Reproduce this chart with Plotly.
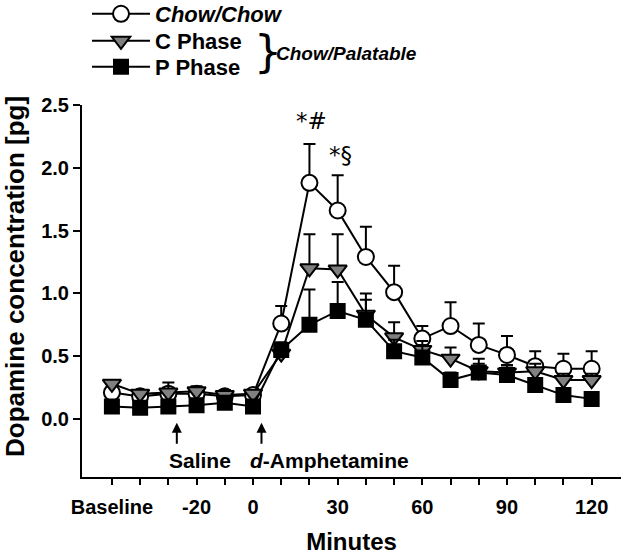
import plotly.graph_objects as go

minutes = [-50, -40, -30, -20, -10, 0, 10, 20, 30, 40, 50, 60, 70, 80, 90, 100, 110, 120]
chow_chow = [0.21, 0.18, 0.20, 0.20, 0.18, 0.19, 0.76, 1.88, 1.66, 1.29, 1.01, 0.64, 0.74, 0.59, 0.51, 0.42, 0.40, 0.40]
chow_chow_err = [0.05, 0.04, 0.05, 0.04, 0.03, 0.04, 0.14, 0.31, 0.28, 0.24, 0.21, 0.10, 0.19, 0.17, 0.15, 0.12, 0.12, 0.14]
c_phase = [0.28, 0.20, 0.21, 0.22, 0.19, 0.20, 0.52, 1.20, 1.19, 0.83, 0.65, 0.55, 0.48, 0.38, 0.37, 0.38, 0.31, 0.31]
c_phase_err = [0.03, 0.03, 0.08, 0.04, 0.04, 0.03, 0.06, 0.27, 0.28, 0.17, 0.12, 0.07, 0.09, 0.06, 0.06, 0.06, 0.05, 0.05]
p_phase = [0.10, 0.09, 0.10, 0.11, 0.13, 0.10, 0.55, 0.75, 0.86, 0.79, 0.54, 0.49, 0.31, 0.37, 0.35, 0.27, 0.19, 0.16]
p_phase_err = [0.04, 0.04, 0.04, 0.04, 0.03, 0.04, 0.06, 0.28, 0.23, 0.16, 0.09, 0.10, 0.06, 0.11, 0.06, 0.05, 0.04, 0.04]

x_tickvals = [-50, -40, -30, -20, -10, 0, 10, 20, 30, 40, 50, 60, 70, 80, 90, 100, 110, 120]
x_ticktext = ["Baseline", "", "", "-20", "", "0", "", "", "30", "", "", "60", "", "", "90", "", "", "120"]
y_tickvals = [0.0, 0.5, 1.0, 1.5, 2.0, 2.5]

FONT = "Liberation Sans, Arial, sans-serif"
W, H = 629, 555
ML, MR, MT, MB = 82, 8, 105, 78
PW, PH = W - ML - MR, H - MT - MB


def px_x(p):
    return (p - ML) / PW


def px_y(p):
    return 1 + (MT - p) / PH


def series(name, y, err, symbol, fill, size, legend):
    return go.Scatter(
        x=minutes, y=y, name=name, mode="lines+markers", legend=legend,
        line=dict(color="black", width=2),
        marker=dict(symbol=symbol, size=size, color=fill, line=dict(color="black", width=2)),
        error_y=dict(type="data", array=err, arrayminus=[0] * len(err), symmetric=False,
                     color="black", thickness=2, width=6),
    )


fig = go.Figure()
fig.add_trace(series("<i>Chow/Chow</i>", chow_chow, chow_chow_err, "circle", "white", 16, "legend"))
fig.add_trace(series("C Phase", c_phase, c_phase_err, "triangle-down", "#808080", 16, "legend2"))
fig.add_trace(series("P Phase", p_phase, p_phase_err, "square", "black", 14, "legend3"))

annotations = [
    dict(x=-27, y=-0.03, ax=-27, ay=-0.21, xref="x", yref="y", axref="x", ayref="y",
         showarrow=True, arrowhead=2, arrowsize=1, arrowwidth=2, arrowcolor="black", text=""),
    dict(x=3, y=-0.03, ax=3, ay=-0.21, xref="x", yref="y", axref="x", ayref="y",
         showarrow=True, arrowhead=2, arrowsize=1, arrowwidth=2, arrowcolor="black", text=""),
    dict(x=-30.5, y=-0.33, xref="x", yref="y", xanchor="left", yanchor="middle", showarrow=False,
         text="Saline", font=dict(family=FONT, size=21, color="black", weight="bold")),
    dict(x=-1.8, y=-0.33, xref="x", yref="y", xanchor="left", yanchor="middle", showarrow=False,
         text="<i>d</i>-Amphetamine", font=dict(family=FONT, size=21, color="black", weight="bold")),
    dict(x=20.6, y=2.37, xref="x", yref="y", showarrow=False, text="*#",
         font=dict(family="DejaVu Sans, sans-serif", size=23, color="black")),
    dict(x=31.1, y=2.10, xref="x", yref="y", showarrow=False, text="*§",
         font=dict(family="DejaVu Sans, sans-serif", size=23, color="black")),
    dict(x=px_x(268), y=px_y(52), xref="paper", yref="paper", showarrow=False, text="}",
         xanchor="center", yanchor="middle",
         font=dict(family="DejaVu Sans, sans-serif", size=44, color="black")),
    dict(x=px_x(274), y=px_y(54), xref="paper", yref="paper", showarrow=False, xanchor="left",
         yanchor="middle", text="<i>Chow/Palatable</i>",
         font=dict(family=FONT, size=19, color="black", weight="bold")),
    dict(x=px_x(15), y=px_y(277), xref="paper", yref="paper", showarrow=False, textangle=-90,
         xanchor="center", yanchor="middle", text="Dopamine concentration [pg]", borderpad=0,
         font=dict(family=FONT, size=26, color="black", weight="bold")),
]


def leg(py):
    return dict(x=px_x(87), y=px_y(py), xanchor="left", yanchor="middle",
                bgcolor="rgba(0,0,0,0)",
                font=dict(family=FONT, size=22, color="black", weight="bold"),
                itemwidth=58, tracegroupgap=0)


fig.update_layout(
    width=W, height=H,
    margin=dict(l=ML, r=MR, t=MT, b=MB, autoexpand=False),
    paper_bgcolor="white", plot_bgcolor="white",
    font=dict(family=FONT, color="black"),
    showlegend=True,
    legend=leg(14), legend2=leg(41), legend3=leg(67),
    annotations=annotations,
    xaxis=dict(range=[-60.6, 130.4], tickvals=x_tickvals, ticktext=x_ticktext, automargin=False,
               showgrid=False, zeroline=False, showline=True, linecolor="black", linewidth=2,
               ticks="outside", ticklen=6, tickwidth=2, tickcolor="black",
               tickfont=dict(family=FONT, size=20, color="black", weight="bold"),
               ticklabelstandoff=5,
               title=dict(text="Minutes", font=dict(family=FONT, size=24, color="black", weight="bold"),
                          standoff=16)),
    yaxis=dict(range=[-0.462, 2.5], tickvals=y_tickvals, tickformat=".1f", automargin=False,
               showgrid=False, zeroline=False, showline=True, linecolor="black", linewidth=2,
               ticks="outside", ticklen=7, tickwidth=2, tickcolor="black",
               tickfont=dict(family=FONT, size=20, color="black", weight="bold"),
               ticklabelstandoff=0),
)

fig.write_html("out.html", config={"displayModeBar": False},
               post_script="document.body.style.margin='0px';document.body.style.overflow='hidden';")
